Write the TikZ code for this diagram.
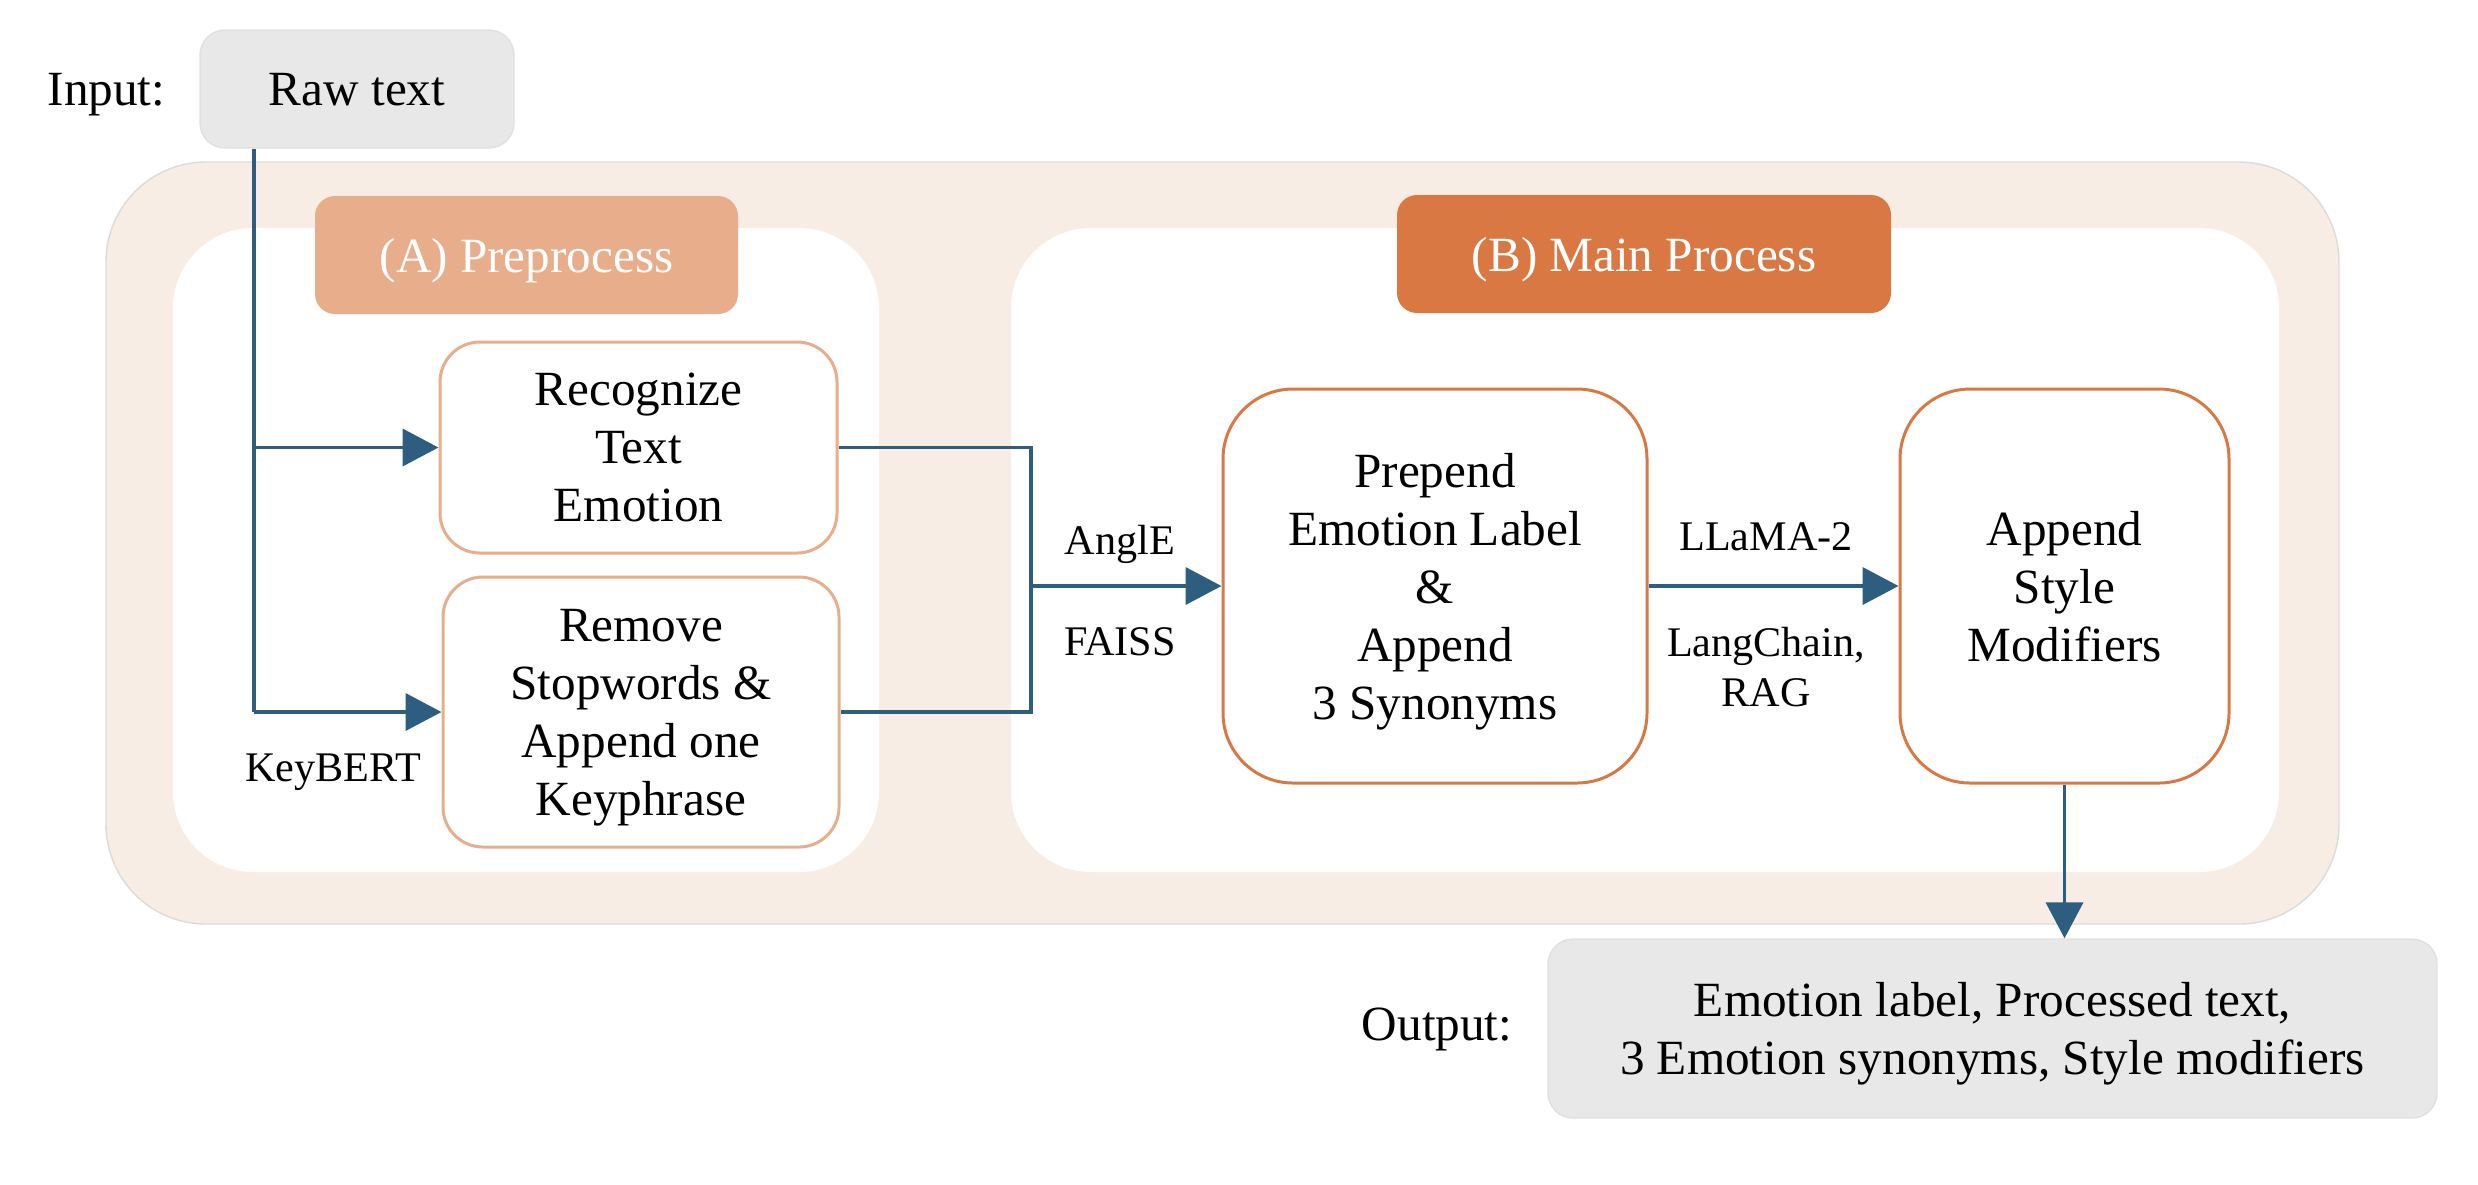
\documentclass[tikz,border=0pt]{standalone}
\usepackage{fontspec}
\setmainfont{Liberation Serif}
\usetikzlibrary{arrows.meta,positioning,calc}
\definecolor{outerfill}{HTML}{F8EDE5}
\definecolor{lblA}{HTML}{E8AD8A}
\definecolor{lblB}{HTML}{D97843}
\definecolor{arr}{HTML}{2D5E80}
\definecolor{greyfill}{HTML}{E8E8E8}
\tikzset{
  txt/.style={font=\fontsize{14}{16.5}\selectfont, align=center, inner sep=0pt, text depth=0pt},
  small/.style={font=\fontsize{12}{14.2}\selectfont, align=center, inner sep=0pt, text depth=0pt},
  greybox/.style={txt, fill=greyfill, draw=black!12, line width=0.4pt, rounded corners=2.5mm},
  panel/.style={fill=white, draw=none, rounded corners=8mm},
  tagbox/.style={txt, text=white, rounded corners=2mm},
  procA/.style={txt, draw=lblA, fill=white, line width=0.85pt, rounded corners=4mm},
  procB/.style={txt, draw=lblB, fill=white, line width=0.85pt, rounded corners=7mm},
  conn/.style={draw=arr, line width=1.1pt},
  arrow/.style={conn, -{Triangle[length=3.6mm,width=3.7mm]}},
}
\begin{document}
\begin{tikzpicture}[x=0.1mm,y=-0.1mm]
\useasboundingbox (0,0) rectangle (2478,1184);
% outer band
\path[fill=outerfill, draw=black!14, line width=0.4pt, rounded corners=10mm] (106,162) rectangle (2339,924);
% panels
\path[panel] (173,228) rectangle (879,872);
\path[panel] (1011,228) rectangle (2279,872);
% tags
\node[tagbox, fill=lblA, minimum width=42.3mm, minimum height=11.8mm] (tagA) at (526.5,255) {(A) Preprocess};
\node[tagbox, fill=lblB, minimum width=49.4mm, minimum height=11.8mm] (tagB) at (1644,254) {(B) Main Process};
% input / output
\node[greybox, minimum width=31.4mm, minimum height=11.8mm] (raw) at (357,89) {Raw text};
\node[txt, anchor=base east] (inlbl) at ($(raw.base)+(-191,0)$) {Input:};
\node[greybox, minimum width=88.9mm, minimum height=17.9mm] (out) at (1992.5,1028.5) {Emotion label, Processed text,\\3 Emotion synonyms, Style modifiers};
\node[txt, anchor=base east] (outlbl) at (1513,1040) {Output:};
% process boxes
\node[procA, minimum width=39.7mm, minimum height=21.1mm] (rec) at (638.5,447.5) {Recognize\\Text\\Emotion};
\node[procA, minimum width=39.6mm, minimum height=27.0mm] (rem) at (641,712) {Remove\\Stopwords \&\\Append one\\Keyphrase};
\node[procB, minimum width=42.4mm, minimum height=39.4mm] (prep) at (1435,586) {Prepend\\Emotion Label\\\&\\Append\\3 Synonyms};
\node[procB, minimum width=32.9mm, minimum height=39.4mm] (sty) at (2064.5,586) {Append\\Style\\Modifiers};
% junctions
\coordinate (j1) at (254,447.5);
\coordinate (j2) at (254,712);
\coordinate (m) at (1031,586);
% connectors
\draw[conn] (j1 |- raw.south) -- (j2);
\draw[arrow] (j1) -- (rec.west);
\draw[arrow] (j2) -- (rem.west);
\draw[conn] (rec.east) -| (m) |- (rem.east);
\draw[arrow] (m) -- (prep.west);
\draw[arrow] (prep.east) -- (sty.west);
\draw[arrow] (sty.south) -- (sty.south |- out.north);
% labels
\node[small] (kb) at (333,768) {KeyBERT};
\node[small] (ang) at (1120,540) {AnglE};
\node[small] (fai) at (1120,642) {FAISS};
\node[small] (lla) at (1766,537) {LLaMA-2};
\node[small] (lc) at (1766,667) {LangChain,\\RAG};
\end{tikzpicture}
\end{document}
